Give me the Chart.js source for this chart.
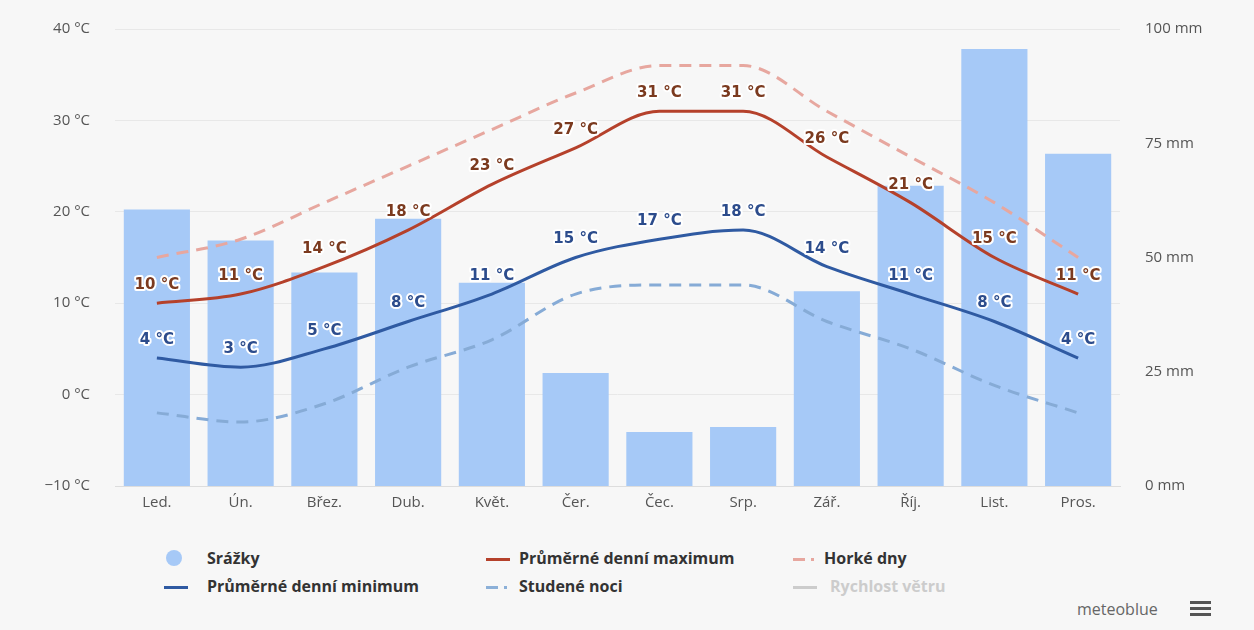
<!DOCTYPE html>
<html lang="cs">
<head>
<meta charset="utf-8">
<script src="https://cdn.jsdelivr.net/npm/chart.js@4/dist/chart.umd.min.js"></script>
<style>
  html, body { margin: 0; padding: 0; background: #f7f7f7; }
  body { width: 1254px; height: 630px; position: relative; overflow: hidden; font-family: "Open Sans", sans-serif; }
  #wrap { position: absolute; left: 0; top: -5px; width: 1254px; height: 527px; }
  .legend { position: absolute; font-weight: bold; font-size: 16px; color: #333; white-space: nowrap; }
  .legend .ico { position: absolute; }
  .footer { position: absolute; left: 1077px; top: 598px; font-size: 16px; color: #666; }
  .burger { position: absolute; left: 1190px; top: 601px; width: 21px; }
  .burger div { height: 3px; background: #555; margin-bottom: 3px; }
</style>
</head>
<body>
<div id="wrap"><canvas id="grafica"></canvas></div>

<div class="legend" style="left:207px; top:547px;">Srážky</div>
<div class="legend ico" style="left:166px; top:550px; width:16px; height:16px; border-radius:50%; background:#a6c9f7;"></div>

<div class="legend" style="left:519px; top:547px;">Průměrné denní maximum</div>
<div class="legend ico" style="left:486px; top:558px; width:24px; height:3px; background:#b5412b;"></div>

<div class="legend" style="left:824px; top:547px;">Horké dny</div>
<div class="legend ico" style="left:793px; top:558px; width:12px; height:3px; background:#e7a79f;"></div>
<div class="legend ico" style="left:811px; top:558px; width:3px; height:3px; background:#e7a79f;"></div>

<div class="legend" style="left:207px; top:575px;">Průměrné denní minimum</div>
<div class="legend ico" style="left:164px; top:586px; width:24px; height:3px; background:#2f5aa2;"></div>

<div class="legend" style="left:519px; top:575px;">Studené noci</div>
<div class="legend ico" style="left:486px; top:586px; width:12px; height:3px; background:#8cb0d8;"></div>
<div class="legend ico" style="left:504px; top:586px; width:3px; height:3px; background:#8cb0d8;"></div>

<div class="legend" style="left:830px; top:575px; color:#cccccc;">Rychlost větru</div>
<div class="legend ico" style="left:793px; top:586px; width:24px; height:3px; background:#cccccc;"></div>

<div class="footer">meteoblue</div>
<div class="burger"><div></div><div></div><div></div></div>

<script>
const mesice = ['Led.', 'Ún.', 'Břez.', 'Dub.', 'Květ.', 'Čer.', 'Čec.', 'Srp.', 'Zář.', 'Říj.', 'List.', 'Pros.'];
const srazky = [60.5, 53.7, 46.7, 58.5, 44.5, 24.7, 11.8, 12.9, 42.6, 65.7, 95.6, 72.7];
const maxTeplota = [10, 11, 14, 18, 23, 27, 31, 31, 26, 21, 15, 11];
const minTeplota = [4, 3, 5, 8, 11, 15, 17, 18, 14, 11, 8, 4];
const horkeDny = [15, 17, 21, 25, 29, 33, 36, 36, 31, 26, 21, 15];
const studeneNoci = [-2, -3, -1, 3, 6, 11, 12, 12, 8, 5, 1, -2];

const teplotaTicks = [-10, 0, 10, 20, 30, 40];
const srazkyTicks = [0, 25, 50, 75, 100];

// popisky hodnot nad krivkami (bila obrys)
const popiskyPlugin = {
    id: 'popisky',
    afterDatasetsDraw(chart) {
        const ctx = chart.ctx;
        ctx.save();
        ctx.font = 'bold 15px "DejaVu Sans", sans-serif';
        ctx.textAlign = 'center';
        ctx.textBaseline = 'middle';
        ctx.lineJoin = 'round';
        chart.data.datasets.forEach((ds, i) => {
            if (!ds.popisky) return;
            const meta = chart.getDatasetMeta(i);
            meta.data.forEach((pt, j) => {
                const txt = ds.data[j] + ' °C';
                ctx.lineWidth = 4;
                ctx.strokeStyle = '#ffffff';
                ctx.strokeText(txt, pt.x, pt.y - 18);
                ctx.fillStyle = ds.popisky;
                ctx.fillText(txt, pt.x, pt.y - 18);
            });
        });
        ctx.restore();
    }
};

const ctx = document.getElementById('grafica');
new Chart(ctx, {
    type: 'bar',
    data: {
        labels: mesice,
        datasets: [
            {
                type: 'line',
                label: 'Průměrné denní maximum',
                data: maxTeplota,
                yAxisID: 'y',
                borderColor: '#b5412b',
                borderWidth: 3,
                pointRadius: 0,
                cubicInterpolationMode: 'monotone',
                popisky: '#7b3a1f',
                order: 1
            },
            {
                type: 'line',
                label: 'Průměrné denní minimum',
                data: minTeplota,
                yAxisID: 'y',
                borderColor: '#2f5aa2',
                borderWidth: 3,
                pointRadius: 0,
                cubicInterpolationMode: 'monotone',
                popisky: '#2c4c8c',
                order: 2
            },
            {
                type: 'line',
                label: 'Horké dny',
                data: horkeDny,
                yAxisID: 'y',
                borderColor: '#e7a79f',
                borderWidth: 3,
                borderDash: [12, 8],
                pointRadius: 0,
                cubicInterpolationMode: 'monotone',
                order: 3
            },
            {
                type: 'line',
                label: 'Studené noci',
                data: studeneNoci,
                yAxisID: 'y',
                borderColor: '#86abd6',
                borderWidth: 3,
                borderDash: [12, 8],
                pointRadius: 0,
                cubicInterpolationMode: 'monotone',
                order: 4
            },
            {
                type: 'bar',
                label: 'Srážky',
                data: srazky,
                yAxisID: 'y1',
                backgroundColor: '#a6c9f7',
                barPercentage: 0.79,
                categoryPercentage: 1,
                order: 10
            }
        ]
    },
    options: {
        responsive: true,
        maintainAspectRatio: false,
        animation: false,
        layout: { padding: { top: 23, left: 0, right: 0, bottom: 0 } },
        plugins: {
            legend: { display: false },
            tooltip: { enabled: false }
        },
        scales: {
            x: {
                grid: { display: false, drawTicks: false },
                border: { color: '#dddddd' },
                ticks: { color: '#555', font: { family: 'Open Sans', size: 15 }, padding: 8 },
                afterFit(s) { s.height = 36; }
            },
            y: {
                position: 'left',
                min: -10,
                max: 40,
                afterBuildTicks(s) { s.ticks = teplotaTicks.map(v => ({ value: v })); },
                ticks: {
                    color: '#555',
                    font: { family: 'Open Sans', size: 15 },
                    padding: 25,
                    callback: v => (v < 0 ? '−' + Math.abs(v) : v) + ' °C'
                },
                grid: { color: '#e8e8e8', drawTicks: false },
                border: { display: false },
                afterFit(s) { s.width = 115; }
            },
            y1: {
                position: 'right',
                min: 0,
                max: 100,
                afterBuildTicks(s) { s.ticks = srazkyTicks.map(v => ({ value: v })); },
                ticks: {
                    color: '#555',
                    font: { family: 'Open Sans', size: 15 },
                    padding: 25,
                    callback: v => v + ' mm'
                },
                grid: { display: false, drawTicks: false },
                border: { display: false },
                afterFit(s) { s.width = 134; }
            }
        }
    },
    plugins: [popiskyPlugin]
});
</script>
</body>
</html>
